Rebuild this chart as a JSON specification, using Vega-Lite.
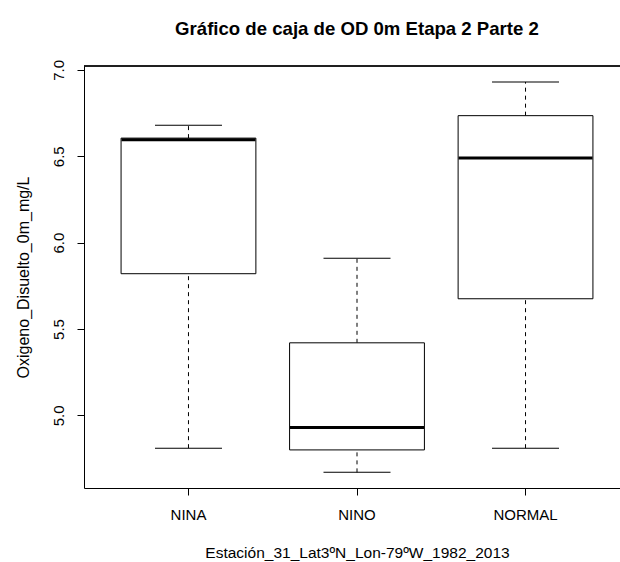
{
  "$schema": "https://vega.github.io/schema/vega-lite/v6.json",
  "autosize": {"type": "none"},
  "padding": {"left": 84, "top": 66, "right": 0, "bottom": 74},
  "width": 536,
  "height": 422,
  "background": "white",
  "config": {
    "view": {"stroke": null},
    "font": "Liberation Sans",
    "axis": {"grid": false, "domainColor": "#000", "tickColor": "#000", "labelColor": "#000", "titleColor": "#000", "labelFont": "Liberation Sans", "titleFont": "Liberation Sans", "labelFontSize": 15, "titleFontSize": 15, "titleFontWeight": "normal", "tickSize": 7, "domainWidth": 1, "tickWidth": 1}
  },
  "title": {"text": "Gráfico de caja de OD 0m Etapa 2 Parte 2", "font": "Liberation Sans", "fontSize": 18.6, "fontWeight": "bold", "color": "#000", "anchor": "middle", "frame": "group", "baseline": "alphabetic", "offset": 6, "dx": 5},
  "data": {"values": [
    {"estacion": "NINA", "lower": 4.81, "q1": 5.82, "median": 6.595, "q3": 6.605, "upper": 6.68},
    {"estacion": "NINO", "lower": 4.67, "q1": 4.80, "median": 4.93, "q3": 5.42, "upper": 5.91},
    {"estacion": "NORMAL", "lower": 4.81, "q1": 5.675, "median": 6.49, "q3": 6.735, "upper": 6.93}
  ]},
  "layer": [
    {"mark": {"type": "rule", "color": "#000", "strokeWidth": 1, "strokeDash": [4, 4]},
     "encoding": {
      "x": {"field": "estacion", "type": "nominal", "sort": null,
        "scale": {"range": [0, 546], "paddingInner": 0, "paddingOuter": 0.12},
        "axis": {"title": "Estación_31_Lat3ºN_Lon-79ºW_1982_2013", "labelAngle": 0, "labelPadding": 12, "titlePadding": 23, "titleFontSize": 15.5, "domain": true}},
      "y": {"field": "q3", "type": "quantitative",
        "scale": {"domain": [4.5795, 7.0225], "nice": false, "zero": false},
        "axis": {"title": "Oxigeno_Disuelto_0m_mg/L", "titleFontSize": 16, "values": [5, 5.5, 6, 6.5, 7], "format": ".1f", "labelAngle": -90, "labelAlign": "center", "labelBaseline": "bottom", "labelPadding": 11, "titlePadding": 20}},
      "y2": {"field": "upper"}}},
    {"mark": {"type": "rule", "color": "#000", "strokeWidth": 1, "strokeDash": [4, 4]},
     "encoding": {"x": {"field": "estacion", "type": "nominal", "sort": null}, "y": {"field": "lower", "type": "quantitative"}, "y2": {"field": "q1"}}},
    {"mark": {"type": "tick", "color": "#000", "opacity": 1, "thickness": 1, "size": 67, "orient": "horizontal"},
     "encoding": {"x": {"field": "estacion", "type": "nominal", "sort": null}, "y": {"field": "upper", "type": "quantitative"}}},
    {"mark": {"type": "tick", "color": "#000", "opacity": 1, "thickness": 1, "size": 67, "orient": "horizontal"},
     "encoding": {"x": {"field": "estacion", "type": "nominal", "sort": null}, "y": {"field": "lower", "type": "quantitative"}}},
    {"mark": {"type": "bar", "fill": "white", "stroke": "#000", "strokeWidth": 1, "width": {"band": 0.8}},
     "encoding": {"x": {"field": "estacion", "type": "nominal", "sort": null}, "y": {"field": "q1", "type": "quantitative"}, "y2": {"field": "q3"}}},
    {"mark": {"type": "tick", "color": "#000", "opacity": 1, "thickness": 3, "size": 134, "orient": "horizontal"},
     "encoding": {"x": {"field": "estacion", "type": "nominal", "sort": null}, "y": {"field": "median", "type": "quantitative"}}},
    {"mark": {"type": "rule", "color": "#000", "strokeWidth": 1},
     "encoding": {"y": {"datum": 7.0225}}}
  ]
}
